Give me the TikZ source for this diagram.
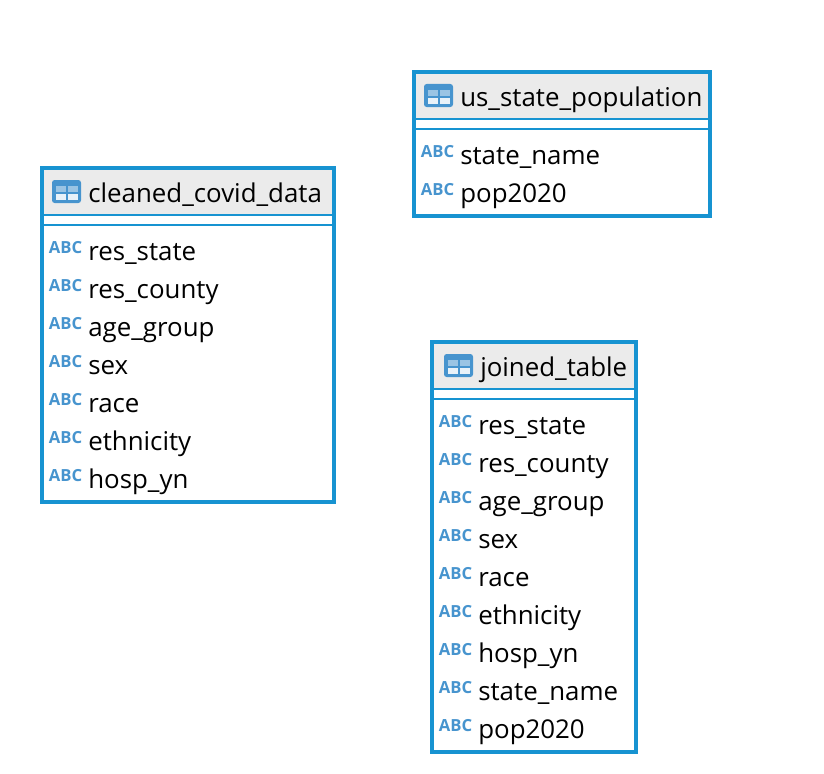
\documentclass[tikz,border=0pt]{standalone}
\usepackage{fontspec}
\setmainfont{Open Sans}
\usetikzlibrary{positioning}
\definecolor{boxblue}{HTML}{1793D1}
\definecolor{iconblue}{HTML}{4794CE}
\definecolor{headgray}{HTML}{EBEBEB}
\tikzset{
	frame/.style={draw=boxblue, line width=3pt},
	rule/.style={draw=boxblue, line width=1.5pt},
	title/.style={anchor=base west, inner sep=0pt, font=\fontsize{19.4pt}{21pt}\selectfont, text=black},
	column/.style={anchor=base west, inner sep=0pt, font=\fontsize{19.4pt}{21pt}\selectfont, text=black},
	abc/.style={anchor=center, inner sep=0pt, font=\fontsize{12.5pt}{14pt}\bfseries\selectfont, text=iconblue}
}
% one table: name, left, top, right, bottom, icon x, title text, list of columns
\newcommand{\dbtable}[8]{
	\fill[headgray] (#2,#3) rectangle (#4,#3+47);
	\draw[rule] (#2,#3+47) -- (#4,#3+47);
	\draw[rule] (#2,#3+57) -- (#4,#3+57);
	\draw[frame] (#2,#3) rectangle (#4,#5);
	\fill[iconblue, rounded corners=2pt] (#6,#3+12) rectangle (#6+29,#3+35);
	\fill[white!45!iconblue] (#6+4,#3+18) rectangle (#6+14,#3+23.5);
	\fill[white!45!iconblue] (#6+15.5,#3+18) rectangle (#6+25.5,#3+23.5);
	\fill[white!88!iconblue] (#6+4,#3+26) rectangle (#6+14,#3+31.5);
	\fill[white!88!iconblue] (#6+15.5,#3+26) rectangle (#6+25.5,#3+31.5);
	\node[title] (#1title) at (#6+36,#3+34) {#7};
	\foreach \col [count=\i] in {#8} {
		\node[abc] (#1abc\i) at (#2+23.5,#3+42+38*\i) {ABC};
		\node[column] (#1col\i) at (#2+46,#3+54+38*\i) {\col};
	}
}

\begin{document}
\begin{tikzpicture}[x=0.75pt, y=-0.75pt]
	\useasboundingbox (0,0) rectangle (824,774);
	\dbtable{covid}{42}{168}{334}{502}{52}{cleaned\_covid\_data}{res\_state,res\_county,age\_group,sex,race,ethnicity,hosp\_yn}
	\dbtable{pop}{414}{72}{710}{216}{424}{us\_state\_population}{state\_name,pop2020}
	\dbtable{joined}{432}{342}{636}{752}{444}{joined\_table}{res\_state,res\_county,age\_group,sex,race,ethnicity,hosp\_yn,state\_name,pop2020}
\end{tikzpicture}
\end{document}
